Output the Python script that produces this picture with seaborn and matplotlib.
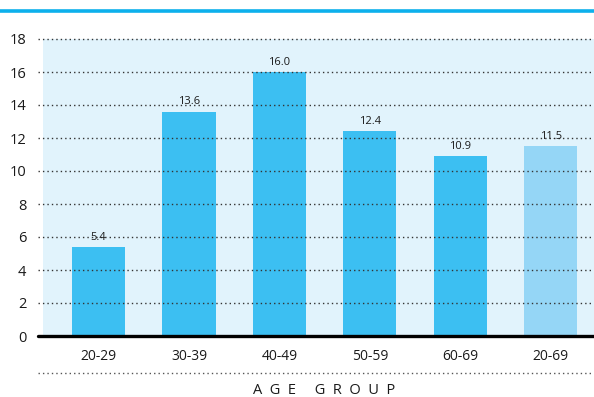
import matplotlib
matplotlib.use("Agg")
import matplotlib.pyplot as plt
import seaborn as sns
import pandas as pd

# Chart data
age_groups = ["20-29", "30-39", "40-49", "50-59", "60-69", "20-69"]
values = [5.4, 13.6, 16.0, 12.4, 10.9, 11.5]
bar_colors = ["#3cbff2", "#3cbff2", "#3cbff2", "#3cbff2", "#3cbff2", "#95d6f6"]
y_ticks = [0, 2, 4, 6, 8, 10, 12, 14, 16, 18]

sns.set_style("white")
plt.rcParams["font.family"] = ["Open Sans", "DejaVu Sans"]

W, H = 594, 397
fig = plt.figure(figsize=(W / 100, H / 100), dpi=100)

# top accent rule
fig.add_artist(plt.Line2D([0, 1], [1 - 10.5 / H, 1 - 10.5 / H], color="#0cb0ec", lw=2.6))

left, right, top, bottom = 43, 594, 39, 336
ax = fig.add_axes([left / W, 1 - bottom / H, (right - left) / W, (bottom - top) / H])
ax.set_facecolor("#e1f3fc")

df = pd.DataFrame({"group": age_groups, "value": values})
sns.barplot(data=df, x="group", y="value", hue="group", palette=bar_colors,
            width=0.59, legend=False, ax=ax, zorder=3, saturation=1, linewidth=0)

ax.set_xlim(-0.615, 5.48)
ax.set_ylim(0, 18)
ax.set_yticks(y_ticks)
ax.set_yticklabels([str(t) for t in y_ticks], fontsize=10.5, color="#1a1a1a")
ax.tick_params(axis="y", length=0, pad=12)
ax.tick_params(axis="x", length=0, pad=9, labelsize=10, labelcolor="#1a1a1a")
ax.set_xlabel("")
ax.set_ylabel("")
for s in ax.spines.values():
    s.set_visible(False)

# dotted gridlines reaching slightly left of the panel
x0 = (38 - left) / (right - left)
for t in y_ticks[1:]:
    ax.axhline(t, xmin=x0, xmax=1, color="#333333", lw=1.0, ls=(0, (1, 2.2)),
               clip_on=False, zorder=4)
# baseline
ax.axhline(0, xmin=x0, xmax=1, color="black", lw=2.4, clip_on=False, zorder=5)

# value labels
for i, v in enumerate(values):
    ax.text(i, v + 0.25, f"{v:.1f}", ha="center", va="bottom", fontsize=8,
            color="#1a1a1a", zorder=6)

# dotted rule below tick labels and axis title
fig.add_artist(plt.Line2D([38 / W, 1], [1 - 373 / H, 1 - 373 / H], color="#555555",
                          lw=1.0, ls=(0, (1, 2.2))))
fig.text(324 / W, 1 - 390 / H, "A  G  E     G  R  O  U  P", ha="center", va="center",
         fontsize=10.5, color="#1a1a1a")

fig.savefig("out.png", dpi=100)
